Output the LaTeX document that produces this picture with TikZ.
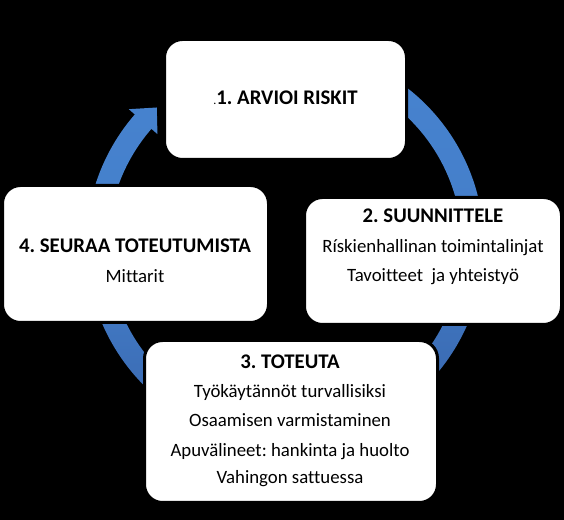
\documentclass[tikz,border=0pt]{standalone}
\usepackage{fontspec}
\setmainfont{Carlito}[Ligatures=CommonOff]
\usetikzlibrary{calc}
\definecolor{arrowA}{RGB}{70,130,206}
\definecolor{arrowB}{RGB}{58,106,178}
\newcommand\cyclearrow[4]{%
  \fill[#4] (#1:199) arc[start angle=#1, end angle=#2, radius=149.25pt]
    -- (#2:207) -- (#3:188) -- (#2:169) -- (#2:177)
    arc[start angle=#2, end angle=#1, radius=132.75pt] -- cycle;}
\frenchspacing
\begin{document}
\begin{tikzpicture}[x=0.75pt,y=0.75pt]
\tikzset{
  cbox/.style={draw=black, line width=2.25pt, fill=white, rounded corners=13.5pt, inner sep=0pt},
  titletext/.style={font=\bfseries\fontsize{15.6}{18}\selectfont, anchor=base, inner sep=0pt},
  bodytext/.style={font=\fontsize{14.1}{16}\selectfont, anchor=base, inner sep=0pt},
  upperarrow/.style={top color=arrowA, bottom color=arrowA!85!arrowB},
  lowerarrow/.style={top color=arrowA!70!arrowB, bottom color=arrowB}
}
\useasboundingbox (0,0) rectangle (564,520);
\fill[black] (0,0) rectangle (564,520);
\begin{scope}[shift={(285,275)}]
  \cyclearrow{52}{10}{4}{upperarrow}
  \cyclearrow{2}{-45}{-51}{lowerarrow}
  \cyclearrow{-125}{-160}{-166}{lowerarrow}
  \cyclearrow{190}{139}{133}{upperarrow}
\end{scope}
\node[cbox, minimum width=181.5pt, minimum height=90pt] (b1) at (285.5,420.5) {};
\node[cbox, minimum width=192.75pt, minimum height=95.25pt] (b2) at (433,259) {};
\node[cbox, minimum width=219.75pt, minimum height=121.5pt] (b3) at (291,98.5) {};
\node[cbox, minimum width=199.5pt, minimum height=102.75pt] (b4) at (135.5,266) {};
\node[titletext] (t1) at (285.5,415) {{\mdseries\fontsize{9}{9}\selectfont .}1. ARVIOI RISKIT};
\node[titletext] (t2a) at (433,297) {2. SUUNNITTELE};
\node[bodytext] (t2b) at (433,267) {Rískienhallinan toimintalinjat};
\node[bodytext] (t2c) at (433,238) {Tavoitteet \ ja yhteistyö};
\node[titletext] (t3a) at (290,151) {3. TOTEUTA};
\node[bodytext] (t3b) at (290,122) {Työkäytännöt turvallisiksi};
\node[bodytext] (t3c) at (290,93) {Osaamisen varmistaminen};
\node[bodytext] (t3d) at (290,63) {Apuvälineet: hankinta ja huolto};
\node[bodytext] (t3e) at (290,36) {Vahingon sattuessa};
\node[titletext] (t4a) at (135,267) {4. SEURAA TOTEUTUMISTA};
\node[bodytext] (t4b) at (135,237) {Mittarit};
\end{tikzpicture}
\end{document}
